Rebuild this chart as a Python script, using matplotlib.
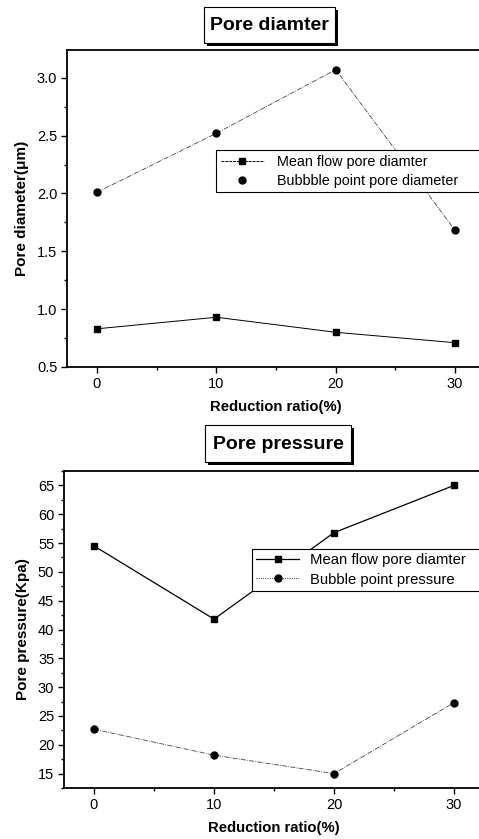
import matplotlib
matplotlib.use("Agg")
import matplotlib.pyplot as plt
from matplotlib.lines import Line2D
from matplotlib.patches import Rectangle
from matplotlib.ticker import MultipleLocator

plt.rcParams['font.family'] = ['Liberation Sans', 'DejaVu Sans']

reduction = [0, 10, 20, 30]
mean_flow_diam = [0.83, 0.93, 0.80, 0.71]
bubble_diam = [2.01, 2.52, 3.07, 1.68]
mean_flow_press = [54.5, 41.8, 56.8, 65.0]
bubble_press = [22.7, 18.2, 15.0, 27.3]

W, H = 479, 839
fig = plt.figure(figsize=(W / 100, H / 100), dpi=100)


def px_axes(left, top, width, height):
    return fig.add_axes([left / W, 1 - (top + height) / H, width / W, height / H])


def title_box(text, x0, y0, x1, y1):
    # shadowed box with a bold heading in figure pixel coordinates
    sh = 3
    fig.patches.append(Rectangle(((x0 + sh) / W, 1 - (y1 + sh) / H), (x1 - x0) / W, (y1 - y0) / H,
                                 transform=fig.transFigure, facecolor='black', edgecolor='black',
                                 lw=0, zorder=1))
    fig.patches.append(Rectangle((x0 / W, 1 - y1 / H), (x1 - x0) / W, (y1 - y0) / H,
                                 transform=fig.transFigure, facecolor='white', edgecolor='black',
                                 lw=0.8, zorder=2))
    fig.text((x0 + x1) / 2 / W, 1 - (y0 + y1 + 2) / 2 / H, text, ha='center', va='center',
             fontsize=14, fontweight='bold', zorder=3)


def style_axes(ax, ymajor, yminor):
    ax.set_xlim(-2.5, 32.5)
    ax.xaxis.set_major_locator(MultipleLocator(10))
    ax.xaxis.set_minor_locator(MultipleLocator(5))
    ax.yaxis.set_major_locator(MultipleLocator(ymajor))
    ax.yaxis.set_minor_locator(MultipleLocator(yminor))
    ax.tick_params(which='both', direction='out', labelsize=10.5, width=1.0)
    ax.tick_params(which='major', length=4, pad=3)
    ax.tick_params(which='minor', length=2.5)
    ax.tick_params(top=False, right=False)
    for s in ax.spines.values():
        s.set_linewidth(1.3)
    ax.set_xlabel('Reduction ratio(%)', fontsize=10.7, fontweight='bold', labelpad=7)


def add_legend(ax, handles, labels, anchor, size, hlen, hpad):
    # frame runs past the right edge of the plot, like the axes box
    leg = ax.legend(handles, labels, loc='upper left', bbox_to_anchor=anchor, mode='expand',
                    fontsize=size, fancybox=False, edgecolor='black', framealpha=1,
                    borderpad=0.3, handlelength=hlen, handletextpad=hpad,
                    labelspacing=0.35, borderaxespad=0)
    leg.get_frame().set_linewidth(0.8)
    return leg


# ---- Pore diameter ----
ax1 = px_axes(67, 50, 418, 317)
ax1.plot(reduction, mean_flow_diam, color='black', lw=0.7, marker='s', ms=5)
ax1.plot(reduction, bubble_diam, color='#444444', lw=0.6, ls=(0, (6, 1.5, 1, 1.5)),
         marker='o', ms=5, mfc='black', mec='black')
ax1.set_ylim(0.5, 3.24)
style_axes(ax1, 0.5, 0.25)
ax1.set_ylabel('Pore diameter(\u03bcm)', fontsize=11, fontweight='bold', labelpad=6)
h1 = [Line2D([], [], color='black', lw=0.7, ls=(0, (3, 1)), marker='s', ms=5),
      Line2D([], [], color='black', ls='none', marker='o', ms=5)]
add_legend(ax1, h1, ['Mean flow pore diamter', 'Bubbble point pore diameter'],
           (0.357, 0.683, 0.66, 0), 10.4, 3.0, 0.9)
title_box('Pore diamter', 204, 7, 335, 43)

# ---- Pore pressure ----
ax2 = px_axes(64, 471, 420, 317)
ax2.plot(reduction, mean_flow_press, color='black', lw=0.9, marker='s', ms=5)
ax2.plot(reduction, bubble_press, color='#444444', lw=0.6, ls=(0, (6, 1.5, 1, 1.5)),
         marker='o', ms=5, mfc='black', mec='black')
ax2.set_ylim(12.5, 67.5)
style_axes(ax2, 5, 2.5)
ax2.set_ylabel('Pore pressure(Kpa)', fontsize=11, fontweight='bold', labelpad=6)
h2 = [Line2D([], [], color='black', lw=0.9, marker='s', ms=5),
      Line2D([], [], color='black', lw=0.6, ls=':', marker='o', ms=5)]
add_legend(ax2, h2, ['Mean flow pore diamter', 'Bubble point pressure'],
           (0.447, 0.754, 0.57, 0), 10.7, 2.9, 0.7)
title_box('Pore pressure', 205, 425, 351, 462)

fig.savefig('out.png', dpi=100)
